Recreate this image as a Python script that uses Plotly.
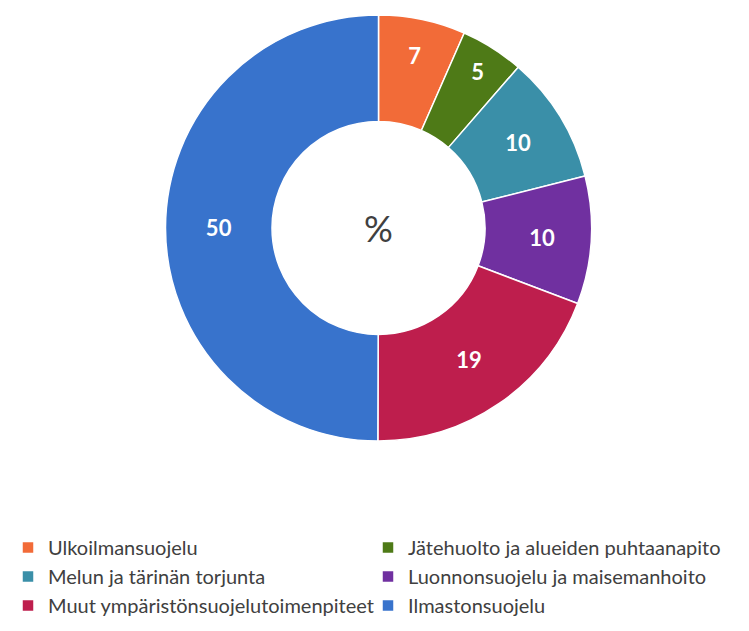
import plotly.graph_objects as go

# Osuudet (%) luettuna kuvasta, myötäpäivään klo 12:sta
labels = [
    "Ulkoilmansuojelu",
    "Jätehuolto ja alueiden puhtaanapito",
    "Melun ja tärinän torjunta",
    "Luonnonsuojelu ja maisemanhoito",
    "Muut ympäristönsuojelutoimenpiteet",
    "Ilmastonsuojelu",
]
values = [6.6, 4.8, 9.7, 9.7, 19.3, 50.0]
colors = ["#F26B38", "#4E7A17", "#3A8FA8", "#7030A0", "#BE1E4D", "#3873CC"]

W, H = 749, 631
MB = 120  # bottom margin that holds the legend
PH = H - MB
# page body has an 8px margin, so positions are shifted by it
cx, cy, r = 370.5, 220, 213

fig = go.Figure(
    go.Pie(
        labels=labels,
        values=values,
        sort=False,
        direction="clockwise",
        rotation=0,
        hole=0.5,
        marker=dict(colors=colors, line=dict(color="white", width=1.5)),
        texttemplate="%{value:.0f}",
        textposition="inside",
        insidetextorientation="horizontal",
        textfont=dict(family="Lato", size=22, color="white", weight="bold"),
        domain=dict(
            x=[(cx - r) / W, (cx + r) / W],
            y=[(PH - cy - r) / PH, (PH - cy + r) / PH],
        ),
    )
)

fig.add_annotation(
    text="%", x=cx / W, y=(PH - cy) / PH, xref="paper", yref="paper",
    showarrow=False, font=dict(family="Lato", size=36, color="#404040"),
)

fig.update_layout(
    width=W,
    height=H,
    margin=dict(l=0, r=0, t=0, b=MB),
    paper_bgcolor="white",
    showlegend=True,
    legend=dict(
        orientation="h",
        x=0,
        xanchor="left",
        y=(PH - 520) / PH,
        yanchor="top",
        entrywidth=315,
        entrywidthmode="pixels",
        font=dict(family="Lato", size=20, color="#404040"),
        traceorder="normal",
    ),
)

fig.write_html("out.html")
